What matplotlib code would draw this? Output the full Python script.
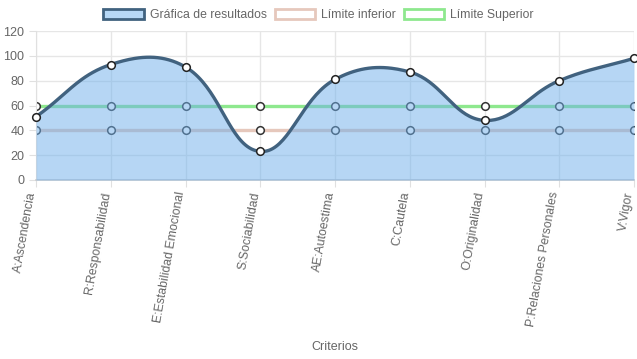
import numpy as np
import matplotlib
matplotlib.use("Agg")
import matplotlib.pyplot as plt
from matplotlib.patches import Patch
import matplotlib.transforms as mtransforms

plt.rcParams['font.family'] = ['Liberation Sans', 'DejaVu Sans']

categories = ["A:Ascendencia", "R:Responsabilidad", "E:Estabilidad Emocional",
              "S:Sociabilidad", "AE:Autoestima", "C:Cautela", "O:Originalidad",
              "P:Relaciones Personales", "V:Vigor"]
resultados = [51, 93, 91, 23, 81, 87, 48, 80, 98]
limite_inferior = [40, 40, 40, 40, 40, 40, 40, 40, 40]
limite_superior = [60, 60, 60, 60, 60, 60, 60, 60, 60]
y_ticks = [0, 20, 40, 60, 80, 100, 120]

W, H, DPI = 637, 359, 100
fig = plt.figure(figsize=(W / DPI, H / DPI), dpi=DPI)
L, R, T, B = 36, 634, 31, 180
ax = fig.add_axes([L / W, 1 - B / H, (R - L) / W, (B - T) / H])

x = np.arange(len(categories))
ax.set_xlim(0, len(categories) - 1)
ax.set_ylim(0, 120)

# Chart.js-like cubic spline (tension 0.4) in pixel space
sx = (R - L) / (len(categories) - 1)
sy = (B - T) / 120.0
def spline(xs, ys, t=0.4, n=40):
    P = np.column_stack([np.asarray(xs, float) * sx, np.asarray(ys, float) * sy])
    m = len(P)
    cps = []
    for i in range(m):
        prev = P[i - 1] if i > 0 else P[i]
        nxt = P[i + 1] if i < m - 1 else P[i]
        d01 = np.hypot(*(P[i] - prev)); d12 = np.hypot(*(nxt - P[i]))
        tot = d01 + d12
        s01 = d01 / tot if tot else 0; s12 = d12 / tot if tot else 0
        fa, fb = t * s01, t * s12
        c1 = P[i] - fa * (nxt - prev)
        c2 = P[i] + fb * (nxt - prev)
        c1[1] = np.clip(c1[1], 0, 120 * sy); c2[1] = np.clip(c2[1], 0, 120 * sy)
        cps.append((c1, c2))
    out = []
    tt = np.linspace(0, 1, n)[:, None]
    for i in range(m - 1):
        p0, p3 = P[i], P[i + 1]
        p1, p2 = cps[i][1], cps[i + 1][0]
        seg = ((1 - tt) ** 3) * p0 + 3 * ((1 - tt) ** 2) * tt * p1 + 3 * (1 - tt) * tt ** 2 * p2 + tt ** 3 * p3
        out.append(seg if i == 0 else seg[1:])
    out = np.vstack(out)
    return out[:, 0] / sx, out[:, 1] / sy

# grid
ax.set_yticks(y_ticks)
ax.set_xticks(x)
ax.grid(True, color='#e6e6e6', linewidth=1, zorder=0)
ax.set_axisbelow(True)
for s in ['top', 'right']:
    ax.spines[s].set_visible(False)
ax.spines['left'].set_color('#e0e0e0')
ax.spines['bottom'].set_color('#cccccc')
ax.spines['bottom'].set_linewidth(1.2)
ax.tick_params(axis='both', colors='#e0e0e0', length=5, labelcolor='#666666', labelsize=9)

lower_c = '#e6c8bc'
upper_c = '#8ee88e'
ax.plot(x, limite_superior, color=upper_c, lw=2.4, zorder=2, marker='o', ms=5.5,
        mfc='white', mec='#333333', mew=1.1, solid_capstyle='butt')
ax.plot(x, limite_inferior, color=lower_c, lw=2.4, zorder=2, marker='o', ms=5.5,
        mfc='white', mec='#333333', mew=1.1, solid_capstyle='butt')

cx, cy = spline(x, resultados)
ax.fill_between(cx, 0, cy, color='#6eafeb', alpha=0.5, lw=0, zorder=3)
ax.plot(cx, cy, color='#41627f', lw=2.4, zorder=4)
ax.plot(x, resultados, ls='none', marker='o', ms=5.5, mfc='white', mec='#222222', mew=1.1, zorder=5, clip_on=False)

ax.set_xticklabels(categories, rotation=80, ha='right', va='center', rotation_mode='anchor', color='#666666')
offset = mtransforms.ScaledTranslation(-4 / DPI, 0, fig.dpi_scale_trans)
for lbl in ax.get_xticklabels():
    lbl.set_color('#666666')
    lbl.set_fontsize(8.8)
    lbl.set_transform(lbl.get_transform() + offset)
ax.set_xlabel('Criterios', color='#666666', fontsize=9, labelpad=0)
ax.xaxis.set_label_coords(0.5, -(347 - B) / (B - T))
ax.xaxis.label.set_verticalalignment('center')

handles = [Patch(facecolor='#b6d7f5', edgecolor='#41627f', lw=2),
           Patch(facecolor='white', edgecolor=lower_c, lw=2),
           Patch(facecolor='white', edgecolor=upper_c, lw=2)]
leg = fig.legend(handles, ['Gráfica de resultados', 'Límite inferior', 'Límite Superior'],
                 loc='center', bbox_to_anchor=(0.5, 1 - 15 / H), ncol=3, frameon=False,
                 fontsize=8.8, handlelength=3.3, handleheight=0.95, columnspacing=0.65,
                 handletextpad=0.5, labelcolor='#666666')

fig.savefig('out.png', dpi=DPI)
